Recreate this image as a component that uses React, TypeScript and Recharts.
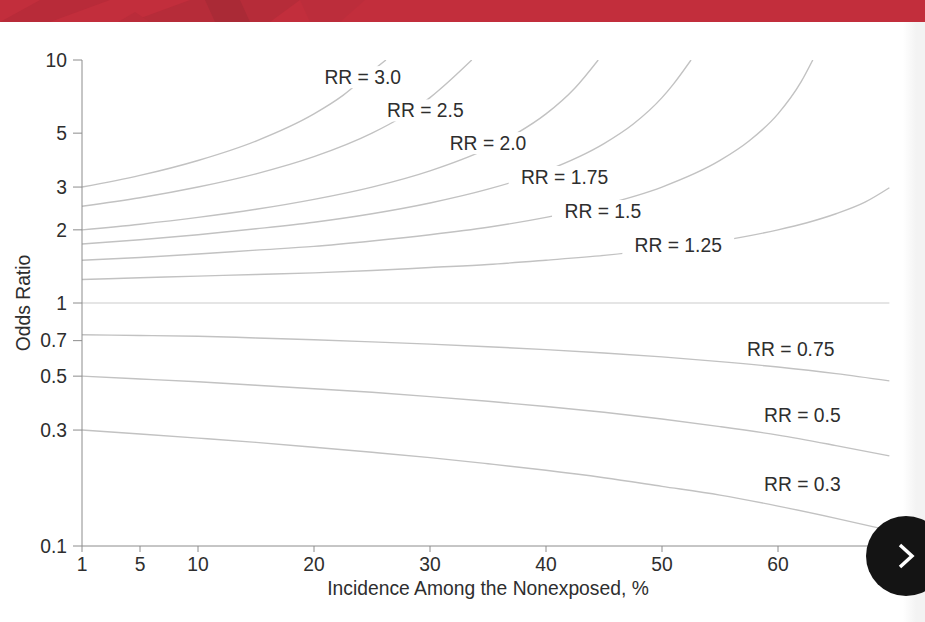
import { LineChart, Line, XAxis, YAxis, ReferenceDot } from 'recharts';

// x positions along the axis; the first tick is labelled "1" but sits at the origin
const incidence = [0, 5, 10, 15, 20, 25, 30, 35, 40, 45, 50, 55, 60, 65, 69.6];
const xTicks = [0, 5, 10, 20, 30, 40, 50, 60];
const xTickLabels = ['1', '5', '10', '20', '30', '40', '50', '60'];
const yTicks = [0.1, 0.3, 0.5, 0.7, 1, 2, 3, 5, 10];

// steep curves stop where they leave the top of the plot
const rr30 = [3, 3.35, 3.86, 4.64, 6, 9];
const rr25 = [2.5, 2.71, 3, 3.4, 4, 5, 7];
const rr20 = [2, 2.11, 2.25, 2.43, 2.67, 3, 3.5, 4.33, 6];
const rr175 = [1.75, 1.82, 1.91, 2.02, 2.15, 2.33, 2.58, 2.94, 3.5, 4.53, 7];
const rr15 = [1.5, 1.54, 1.59, 1.65, 1.71, 1.8, 1.91, 2.05, 2.25, 2.54, 3, 3.86, 6];
const rr125 = [1.25, 1.27, 1.29, 1.31, 1.33, 1.36, 1.4, 1.44, 1.5, 1.57, 1.67, 1.8, 2, 2.33, 2.98];
const rr10 = [1, 1, 1, 1, 1, 1, 1, 1, 1, 1, 1, 1, 1, 1, 1];
const rr075 = [0.74, 0.735, 0.73, 0.718, 0.706, 0.692, 0.677, 0.661, 0.643, 0.623, 0.6, 0.574, 0.545, 0.512, 0.478];
const rr05 = [0.5, 0.487, 0.474, 0.459, 0.444, 0.429, 0.412, 0.394, 0.375, 0.355, 0.333, 0.31, 0.286, 0.259, 0.235];
const rr03 = [0.3, 0.289, 0.278, 0.267, 0.255, 0.243, 0.231, 0.218, 0.205, 0.191, 0.176, 0.162, 0.146, 0.13, 0.116];

// extra readings where the curves bend hard: [x, odds ratio]
const rr30Bend = [[22.5, 7.15], [26.2, 10]];
const rr25Bend = [[27.5, 5.8], [31.5, 8.06], [33.6, 10]];
const rr20Bend = [[37.5, 5], [42.5, 7.67], [44.5, 10]];
const rr175Bend = [[47.5, 5.44], [51, 7.98], [52.5, 10]];
const rr15Bend = [[57.5, 4.64], [62, 8.14], [63, 10]];
const rr125Bend = [[62.5, 2.14], [67.5, 2.6]];

const rows = (values: number[], bend: number[][] = []) =>
  [...values.map((v, i) => ({ x: incidence[i], y: v })), ...bend.map(([x, y]) => ({ x, y }))].sort((a, b) => a.x - b.x);

const curves = [
  { name: 'RR 3.0', data: rows(rr30, rr30Bend) },
  { name: 'RR 2.5', data: rows(rr25, rr25Bend) },
  { name: 'RR 2.0', data: rows(rr20, rr20Bend) },
  { name: 'RR 1.75', data: rows(rr175, rr175Bend) },
  { name: 'RR 1.5', data: rows(rr15, rr15Bend) },
  { name: 'RR 1.25', data: rows(rr125, rr125Bend) },
  { name: 'RR 1', data: rows(rr10), stroke: '#dcdcdc' },
  { name: 'RR 0.75', data: rows(rr075) },
  { name: 'RR 0.5', data: rows(rr05) },
  { name: 'RR 0.3', data: rows(rr03) },
];

const curveLabels = [
  { text: 'RR = 3.0', x: 24.2, y: 8.5 },
  { text: 'RR = 2.5', x: 29.6, y: 6.2 },
  { text: 'RR = 2.0', x: 35, y: 4.55 },
  { text: 'RR = 1.75', x: 41.6, y: 3.3 },
  { text: 'RR = 1.5', x: 44.9, y: 2.39 },
  { text: 'RR = 1.25', x: 51.4, y: 1.73 },
  { text: 'RR = 0.75', x: 61.1, y: 0.647 },
  { text: 'RR = 0.5', x: 62.1, y: 0.346 },
  { text: 'RR = 0.3', x: 62.1, y: 0.18 },
];

const font = '"Liberation Sans", Arial, sans-serif';
const ink = '#2e2e2e';
const axisGrey = '#8c8c8c';
const curveGrey = '#c2c2c2';
const textSize = 19.3;

function CurveLabel({ cx, cy, text }: any) {
  const w = text.length * 10.2 + 20;
  return (
    <g>
      <rect x={cx - w / 2} y={cy - 11} width={w} height={22} fill="#fff" />
      <text x={cx} y={cy + 7} textAnchor="middle" fontSize={textSize} fill={ink} fontFamily={font}>
        {text}
      </text>
    </g>
  );
}

export default function App() {
  return (
    <div style={{ position: 'fixed', inset: 0, width: 925, height: 622, background: '#fff', overflow: 'hidden' }}>
      <LineChart width={925} height={622} margin={{ top: 60, right: 31, bottom: 0, left: 0 }}>
        <XAxis
          type="number"
          dataKey="x"
          domain={[0, 70]}
          ticks={xTicks}
          tickFormatter={(v: number) => xTickLabels[xTicks.indexOf(v)]}
          height={76}
          tickSize={6}
          tickMargin={5}
          tick={{ fill: ink, fontSize: textSize, fontFamily: font }}
          stroke={axisGrey}
          label={{ value: 'Incidence Among the Nonexposed, %', position: 'insideTop', offset: 35, fill: ink, fontSize: textSize, fontFamily: font }}
        />
        <YAxis
          type="number"
          scale="log"
          domain={[0.1, 10]}
          allowDataOverflow
          ticks={yTicks}
          interval={0}
          width={82}
          tickSize={9}
          tickMargin={6}
          tick={{ fill: ink, fontSize: textSize, fontFamily: font }}
          stroke={axisGrey}
          label={{ value: 'Odds Ratio', angle: -90, position: 'insideLeft', offset: 23, textAnchor: 'middle', fill: ink, fontSize: textSize, fontFamily: font }}
        />
        {curves.map((c) => (
          <Line
            key={c.name}
            data={c.data}
            dataKey="y"
            name={c.name}
            type="monotone"
            dot={false}
            stroke={c.stroke ?? curveGrey}
            strokeWidth={1.4}
            isAnimationActive={false}
          />
        ))}
        {curveLabels.map((l) => (
          <ReferenceDot
            key={l.text}
            x={l.x}
            y={l.y}
            r={0}
            shape={(p: any) => <CurveLabel cx={p.cx} cy={p.cy} text={l.text} />}
          />
        ))}
      </LineChart>

      {/* page furniture around the figure */}
      <svg width={925} height={22} style={{ position: 'absolute', left: 0, top: 0 }}>
        <rect width={925} height={22} fill="#c22e3c" />
        <polygon points="0,22 40,0 110,0 50,22" fill="#b82b39" />
        <polygon points="130,22 190,0 300,0 270,22" fill="#b62c39" />
        <polygon points="118,22 135,12 150,22" fill="#ba2c3a" />
        <polygon points="205,0 240,0 250,22 215,22" fill="#aa2a36" />
        <polygon points="300,0 365,0 340,22 310,22" fill="#bc2d3b" />
      </svg>
      <div
        style={{
          position: 'absolute',
          right: 0,
          top: 22,
          width: 22,
          height: 600,
          background: 'linear-gradient(to right, rgba(240,240,240,0), #f3f3f3 60%)',
        }}
      />
      <svg width={80} height={80} style={{ position: 'absolute', left: 866, top: 516 }}>
        <circle cx={40} cy={40} r={40} fill="#141414" />
        <polyline points="34,29 46,40 34,51" fill="none" stroke="#fff" strokeWidth={3.5} />
      </svg>
    </div>
  );
}
